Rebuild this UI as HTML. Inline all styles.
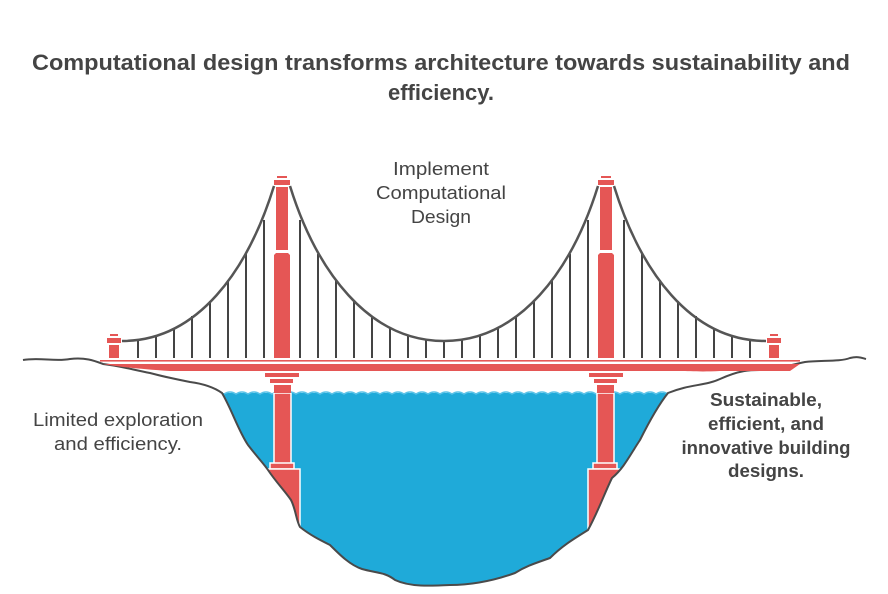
<!DOCTYPE html>
<html><head><meta charset="utf-8"><style>
html,body{margin:0;padding:0;background:#fff;width:888px;height:594px;overflow:hidden}
svg{display:block}
text{font-family:"Liberation Sans",sans-serif;fill:#444}
</style></head><body>
<svg width="888" height="594" viewBox="0 0 888 594" xmlns="http://www.w3.org/2000/svg">
<defs>
<clipPath id="wc">
<path d="M222,393 C232,410 238,430 248,445 C258,458 264,464 268,470 C276,482 284,490 291,500 C296,510 296,520 300,527 C310,535 320,540 330,545 C340,555 350,565 362,569 C376,573 385,572 395,580 C410,587 430,586 450,585 C470,585 490,582 515,573 C526,566 536,563 550,558 C562,546 572,540 588,530 C598,512 605,492 612,478 C624,468 630,455 640,440 C650,420 660,403 668,393 Z"/>
</clipPath>
</defs>

<text x="441" y="70" text-anchor="middle" font-size="22" font-weight="bold" textLength="818" lengthAdjust="spacingAndGlyphs">Computational design transforms architecture towards sustainability and</text>
<text x="441" y="100" text-anchor="middle" font-size="22" font-weight="bold">efficiency.</text>

<text x="441" y="175" text-anchor="middle" font-size="18" textLength="96" lengthAdjust="spacingAndGlyphs">Implement</text>
<text x="441" y="199" text-anchor="middle" font-size="18" textLength="130" lengthAdjust="spacingAndGlyphs">Computational</text>
<text x="441" y="223" text-anchor="middle" font-size="18" textLength="60" lengthAdjust="spacingAndGlyphs">Design</text>

<text x="118" y="426" text-anchor="middle" font-size="18" textLength="170" lengthAdjust="spacingAndGlyphs">Limited exploration</text>
<text x="118" y="450" text-anchor="middle" font-size="18" textLength="128" lengthAdjust="spacingAndGlyphs">and efficiency.</text>

<text x="766" y="406" text-anchor="middle" font-size="18" font-weight="bold" textLength="112" lengthAdjust="spacingAndGlyphs">Sustainable,</text>
<text x="766" y="430" text-anchor="middle" font-size="18" font-weight="bold" textLength="116" lengthAdjust="spacingAndGlyphs">efficient, and</text>
<text x="766" y="454" text-anchor="middle" font-size="18" font-weight="bold" textLength="169" lengthAdjust="spacingAndGlyphs">innovative building</text>
<text x="766" y="477" text-anchor="middle" font-size="18" font-weight="bold" textLength="76" lengthAdjust="spacingAndGlyphs">designs.</text>

<!-- water -->
<path d="M222,393 C232,410 238,430 248,445 C258,458 264,464 268,470 C276,482 284,490 291,500 C296,510 296,520 300,527 C310,535 320,540 330,545 C340,555 350,565 362,569 C376,573 385,572 395,580 C410,587 430,586 450,585 C470,585 490,582 515,573 C526,566 536,563 550,558 C562,546 572,540 588,530 C598,512 605,492 612,478 C624,468 630,455 640,440 C650,420 660,403 668,393 Z" fill="#1faad9"/>
<path d="M224,394 q6,-4 12,0 q6,-4 12,0 q6,-4 12,0 q6,-4 12,0 q6,-4 12,0 q6,-4 12,0 q6,-4 12,0 q6,-4 12,0 q6,-4 12,0 q6,-4 12,0 q6,-4 12,0 q6,-4 12,0 q6,-4 12,0 q6,-4 12,0 q6,-4 12,0 q6,-4 12,0 q6,-4 12,0 q6,-4 12,0 q6,-4 12,0 q6,-4 12,0 q6,-4 12,0 q6,-4 12,0 q6,-4 12,0 q6,-4 12,0 q6,-4 12,0 q6,-4 12,0 q6,-4 12,0 q6,-4 12,0 q6,-4 12,0 q6,-4 12,0 q6,-4 12,0 q6,-4 12,0 q6,-4 12,0 q6,-4 12,0 q6,-4 12,0 q6,-4 12,0 q6,-4 12,0" fill="none" stroke="#5cc3e8" stroke-width="1.5"/>

<!-- piers below deck -->
<g fill="#e55655">
<rect x="265" y="373" width="34" height="4"/><rect x="270" y="379" width="23" height="4"/>
<rect x="274" y="385" width="17" height="10"/>
<rect x="589" y="373" width="34" height="4"/><rect x="594" y="379" width="23" height="4"/>
<rect x="597" y="385" width="17" height="10"/>
</g>
<g clip-path="url(#wc)" fill="#e55655" stroke="#fff" stroke-width="1.5">
<rect x="274" y="393" width="17" height="72"/>
<rect x="270" y="463" width="24" height="6"/>
<rect x="262" y="469" width="38" height="80"/>
<rect x="597" y="393" width="17" height="72"/>
<rect x="593" y="463" width="24" height="6"/>
<rect x="588" y="469" width="38" height="80"/>
</g>

<!-- terrain line -->
<path d="M23,360 C40,357 55,362 70,359 C85,357 95,361 103,364 C120,366 130,369 150,373 C165,377 175,379 190,382 C205,384 215,388 222,393 C232,410 238,430 248,445 C258,458 264,464 268,470 C276,482 284,490 291,500 C296,510 296,520 300,527 C310,535 320,540 330,545 C340,555 350,565 362,569 C376,573 385,572 395,580 C410,587 430,586 450,585 C470,585 490,582 515,573 C526,566 536,563 550,558 C562,546 572,540 588,530 C598,512 605,492 612,478 C624,468 630,455 640,440 C650,420 660,403 668,393 C690,384 705,386 720,379 C740,370 750,370 760,370 C780,369 790,365 805,362 C820,360 840,362 850,358 C858,356 862,358 866,359" fill="none" stroke="#4a4a4a" stroke-width="2"/>

<!-- deck -->
<rect x="100" y="360" width="700" height="1.6" fill="#e55655"/>
<path d="M100,364 L800,364 L790,371 L720,371 C700,372 690,371 680,371 L170,371 C140,369 120,367 103,364 Z" fill="#e55655"/>

<!-- hangers -->
<g stroke="#444" stroke-width="2">
<line x1="138" y1="339" x2="138" y2="358"/><line x1="156" y1="335" x2="156" y2="358"/><line x1="174" y1="328" x2="174" y2="358"/><line x1="192" y1="316" x2="192" y2="358"/><line x1="210" y1="301" x2="210" y2="358"/><line x1="228" y1="280" x2="228" y2="358"/><line x1="246" y1="254" x2="246" y2="358"/><line x1="264" y1="220" x2="264" y2="358"/>
<line x1="300" y1="220" x2="300" y2="358"/><line x1="318" y1="254" x2="318" y2="358"/><line x1="336" y1="280" x2="336" y2="358"/><line x1="354" y1="300" x2="354" y2="358"/><line x1="372" y1="316" x2="372" y2="358"/><line x1="390" y1="328" x2="390" y2="358"/><line x1="408" y1="336" x2="408" y2="358"/><line x1="426" y1="340" x2="426" y2="358"/><line x1="444" y1="341" x2="444" y2="358"/><line x1="462" y1="340" x2="462" y2="358"/><line x1="480" y1="336" x2="480" y2="358"/><line x1="498" y1="328" x2="498" y2="358"/><line x1="516" y1="316" x2="516" y2="358"/><line x1="534" y1="300" x2="534" y2="358"/><line x1="552" y1="280" x2="552" y2="358"/><line x1="570" y1="254" x2="570" y2="358"/><line x1="588" y1="220" x2="588" y2="358"/>
<line x1="624" y1="220" x2="624" y2="358"/><line x1="642" y1="254" x2="642" y2="358"/><line x1="660" y1="280" x2="660" y2="358"/><line x1="678" y1="301" x2="678" y2="358"/><line x1="696" y1="316" x2="696" y2="358"/><line x1="714" y1="328" x2="714" y2="358"/><line x1="732" y1="335" x2="732" y2="358"/><line x1="750" y1="339" x2="750" y2="358"/>
</g>

<!-- cables -->
<g fill="none" stroke="#555" stroke-width="2.5">
<path d="M122,341 C198,341 248,270 274,186"/>
<path d="M290,186 C316,270 368,341 444,341 C520,341 572,270 598,186"/>
<path d="M614,186 C640,270 690,341 766,341"/>
</g>

<!-- towers -->
<g fill="#e55655">
<rect x="277" y="176" width="10" height="2"/><rect x="274" y="180" width="16" height="5"/>
<rect x="276" y="187" width="12" height="63"/><path d="M276,253 L288,253 L290,255 L290,358 L274,358 L274,255 Z"/>
<rect x="601" y="176" width="10" height="2"/><rect x="598" y="180" width="16" height="5"/>
<rect x="600" y="187" width="12" height="63"/><path d="M600,253 L612,253 L614,255 L614,358 L598,358 L598,255 Z"/>
<rect x="110" y="334" width="8" height="2"/><rect x="107" y="338" width="14" height="5"/><rect x="109" y="345" width="10" height="13"/>
<rect x="770" y="334" width="8" height="2"/><rect x="767" y="338" width="14" height="5"/><rect x="769" y="345" width="10" height="13"/>
</g>
</svg>
</body></html>
